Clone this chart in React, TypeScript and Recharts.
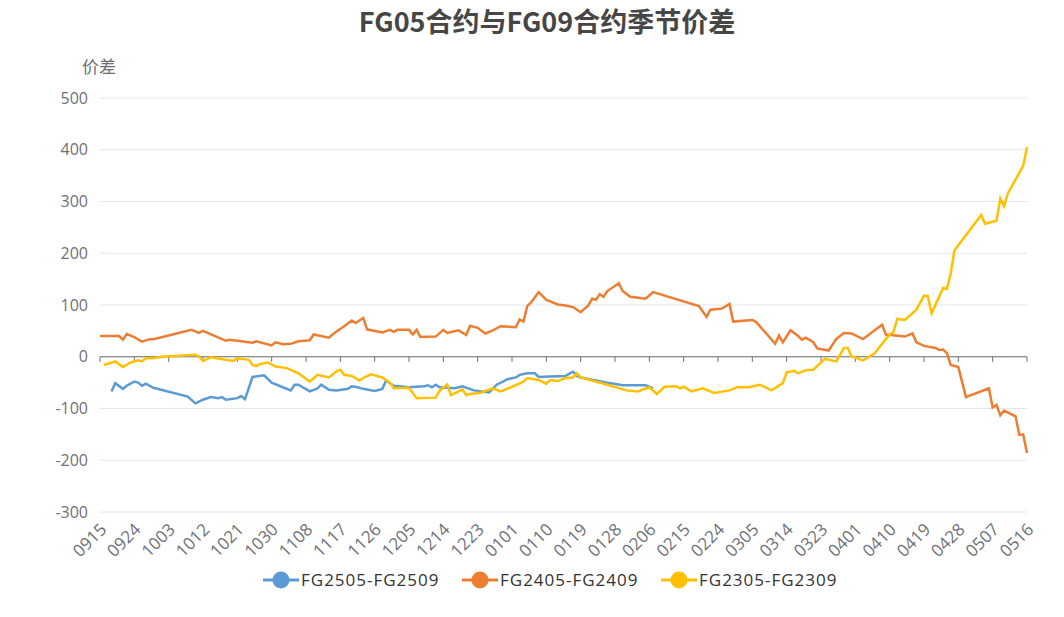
import React from 'react'
import {
  LineChart,
  Line,
  XAxis,
  YAxis,
  CartesianGrid,
  ReferenceLine,
} from 'recharts'

// calendar span of the category axis: [month, first day, last day]
const MONTH_SPANS = [
  [9, 15, 30],
  [10, 1, 31],
  [11, 1, 30],
  [12, 1, 31],
  [1, 1, 31],
  [2, 1, 28],
  [3, 1, 31],
  [4, 1, 30],
  [5, 1, 16],
]

const pad = (n: number) => String(n).padStart(2, '0')
const DAYS: string[] = MONTH_SPANS.flatMap(([m, a, b]) =>
  Array.from({ length: b - a + 1 }, (_, i) => pad(m) + pad(a + i))
)

const Y_TICKS = [-300, -200, -100, 0, 100, 200, 300, 400, 500]

// [day index, value]
const FG2505: [number, number][] = [
  [3, -67], [4, -51], [6, -62], [7, -56], [9, -48], [10, -50], [11, -56], [12, -52],
  [14, -60], [23, -77], [25, -90], [27, -83], [29, -78], [31, -80], [32, -78], [33, -83],
  [36, -80], [37, -76], [38, -82], [40, -39], [43, -36], [45, -50], [50, -65], [51, -54],
  [52, -54], [55, -67], [57, -61], [58, -54], [60, -64], [62, -65], [65, -62], [66, -57],
  [67, -58], [69, -62], [72, -66], [74, -62], [75, -46], [77, -56], [81, -59], [85, -57],
  [86, -55], [87, -59], [88, -54], [89, -59], [93, -61], [95, -57], [98, -65], [102, -69],
  [104, -54], [107, -43], [109, -40], [110, -35], [112, -32], [114, -32], [115, -39],
  [118, -38], [122, -37], [124, -29], [125, -37], [126, -40], [133, -50], [137, -55],
  [143, -55], [145, -61],
]

const FG2405: [number, number][] = [
  [0, 40], [5, 40], [6, 33], [7, 44], [9, 38], [11, 29], [13, 34], [14, 34], [24, 52],
  [26, 46], [27, 50], [32, 34], [33, 31], [34, 33], [40, 27], [41, 30], [45, 22], [46, 28],
  [48, 24], [50, 25], [52, 30], [55, 32], [56, 43], [60, 37], [62, 49], [64, 59], [66, 70],
  [67, 65], [69, 75], [70, 53], [74, 47], [76, 52], [77, 48], [78, 52], [81, 52], [82, 43],
  [83, 52], [84, 38], [88, 39], [90, 52], [91, 46], [94, 51], [96, 42], [97, 60], [99, 56],
  [101, 45], [103, 51], [105, 59], [109, 57], [110, 72], [111, 68], [112, 98], [113, 105],
  [115, 125], [117, 110], [118, 107], [120, 101], [122, 99], [124, 96], [126, 86], [128, 99],
  [129, 112], [130, 110], [131, 121], [132, 116], [133, 127], [136, 142], [137, 127],
  [139, 116], [143, 112], [145, 125], [157, 98], [159, 77], [160, 91], [163, 93], [165, 102],
  [166, 68], [171, 71], [172, 67], [175, 42], [177, 25], [178, 41], [179, 28], [181, 51],
  [183, 40], [184, 33], [185, 37], [187, 28], [188, 16], [191, 12], [193, 34], [195, 46],
  [197, 45], [200, 34], [205, 62], [206, 43], [211, 39], [213, 45], [214, 28], [216, 21],
  [219, 17], [220, 13], [221, 14], [222, 7], [223, -16], [225, -20], [227, -78], [233, -61],
  [234, -98], [235, -93], [236, -113], [237, -104], [240, -115], [241, -151], [242, -150],
  [243, -186],
]

const FG2305: [number, number][] = [
  [1, -16], [4, -9], [6, -20], [8, -11], [10, -7], [11, -9], [12, -3], [14, -3], [16, 0],
  [25, 4], [26, 0], [27, -8], [29, -1], [33, -6], [35, -8], [36, -3], [39, -6], [40, -16],
  [41, -18], [42, -14], [44, -11], [46, -19], [49, -22], [52, -32], [55, -48], [57, -35],
  [60, -40], [62, -28], [63, -25], [64, -35], [66, -37], [68, -46], [69, -41], [71, -34],
  [74, -40], [76, -50], [77, -61], [81, -60], [83, -80], [88, -79], [89, -66], [91, -54],
  [92, -74], [94, -67], [95, -63], [96, -74], [97, -72], [100, -69], [103, -61], [105, -67],
  [108, -58], [111, -48], [112, -41], [115, -45], [117, -52], [118, -45], [120, -47],
  [122, -41], [124, -40], [125, -32], [126, -40], [133, -54], [138, -65], [141, -67],
  [144, -59], [146, -72], [148, -58], [151, -57], [152, -61], [153, -58], [155, -67],
  [158, -61], [161, -70], [165, -65], [167, -59], [170, -59], [173, -54], [176, -65],
  [179, -51], [180, -30], [182, -27], [183, -32], [185, -26], [187, -25], [190, -4],
  [193, -9], [195, 17], [196, 17], [197, 1], [200, -7], [203, 6], [205, 25], [207, 43],
  [208, 48], [209, 73], [211, 71], [214, 91], [216, 118], [217, 117], [218, 84], [221, 133],
  [222, 131], [223, 161], [224, 206], [231, 274], [232, 257], [235, 263], [236, 306],
  [237, 291], [238, 316], [242, 369], [243, 405],
]

const SERIES = [
  { key: 'a', name: 'FG2505-FG2509', color: '#5b9bd5', points: FG2505 },
  { key: 'b', name: 'FG2405-FG2409', color: '#ed7d31', points: FG2405 },
  { key: 'c', name: 'FG2305-FG2309', color: '#ffc000', points: FG2305 },
]

const data = DAYS.map((day, i) => {
  const row: Record<string, string | number | null> = { day }
  SERIES.forEach((s) => {
    const hit = s.points.find((p) => p[0] === i)
    row[s.key] = hit ? hit[1] : null
  })
  return row
})

const LABEL_DAYS = DAYS.filter((_, i) => i % 9 === 0)

const TEXT = '#6e7079'
const FONT = '"Open Sans", "Noto Sans CJK SC", sans-serif'

function XTick({ x, y, payload }: any) {
  return (
    <g transform={`translate(${x + 4},${y + 7})`}>
      <text
        textAnchor="end"
        fill={TEXT}
        fontSize={17}
        fontFamily={FONT}
        transform="rotate(-45)"
        dy={5}
      >
        {payload.value}
      </text>
    </g>
  )
}

function LegendRow() {
  return (
    <div style={{ position: 'absolute', left: 0, top: 568, width: 1064, height: 22, fontFamily: FONT }}>
      {SERIES.map((s, i) => (
        <div
          key={s.key}
          style={{
            position: 'absolute',
            left: 263 + i * 199,
            top: 0,
            display: 'flex',
            alignItems: 'center',
            gap: 2,
          }}
        >
          <svg width={36} height={20}>
            <line x1={0} y1={10} x2={36} y2={10} stroke={s.color} strokeWidth={3} />
            <circle cx={18} cy={10} r={8.5} fill={s.color} />
          </svg>
          <span style={{ fontSize: 17, color: '#333', letterSpacing: 1 }}>{s.name}</span>
        </div>
      ))}
    </div>
  )
}

export default function App() {
  return (
    <div
      style={{
        position: 'absolute',
        left: 0,
        top: 0,
        width: 1064,
        height: 617,
        background: '#fff',
      }}
    >
      <div
        style={{
          position: 'absolute',
          left: 0,
          width: 1094,
          top: 1,
          textAlign: 'center',
          fontFamily: '"Noto Sans CJK SC", sans-serif',
          fontWeight: 700,
          fontSize: 27,
          color: '#464646',
        }}
      >
        FG05合约与FG09合约季节价差
      </div>
      <div
        style={{
          position: 'absolute',
          left: 82,
          top: 53,
          fontFamily: '"Noto Sans CJK SC", sans-serif',
          fontSize: 17,
          color: TEXT,
        }}
      >
        价差
      </div>
      <LineChart
        width={1064}
        height={617}
        data={data}
        margin={{ top: 98, right: 37, bottom: 45, left: 40 }}
      >
        <CartesianGrid vertical={false} stroke="#e0e6f1" />
        <XAxis
          dataKey="day"
          interval={8}
          axisLine={false}
          tickLine={false}
          tick={<XTick />}
          height={60}
        />
        <YAxis
          domain={[-300, 500]}
          ticks={Y_TICKS}
          axisLine={false}
          tickLine={false}
          tickMargin={6}
          width={60}
          tick={{ fill: TEXT, fontSize: 16, fontFamily: FONT }}
        />
        <ReferenceLine y={0} stroke={TEXT} strokeWidth={1} />
        {LABEL_DAYS.map((d) => (
          <ReferenceLine
            key={d}
            segment={[
              { x: d, y: 0 },
              { x: d, y: -10 },
            ]}
            stroke={TEXT}
            strokeWidth={1}
          />
        ))}
        {SERIES.map((s) => (
          <Line
            key={s.key}
            type="linear"
            dataKey={s.key}
            name={s.name}
            stroke={s.color}
            strokeWidth={2.5}
            dot={false}
            connectNulls
            isAnimationActive={false}
          />
        ))}
      </LineChart>
      <LegendRow />
    </div>
  )
}
